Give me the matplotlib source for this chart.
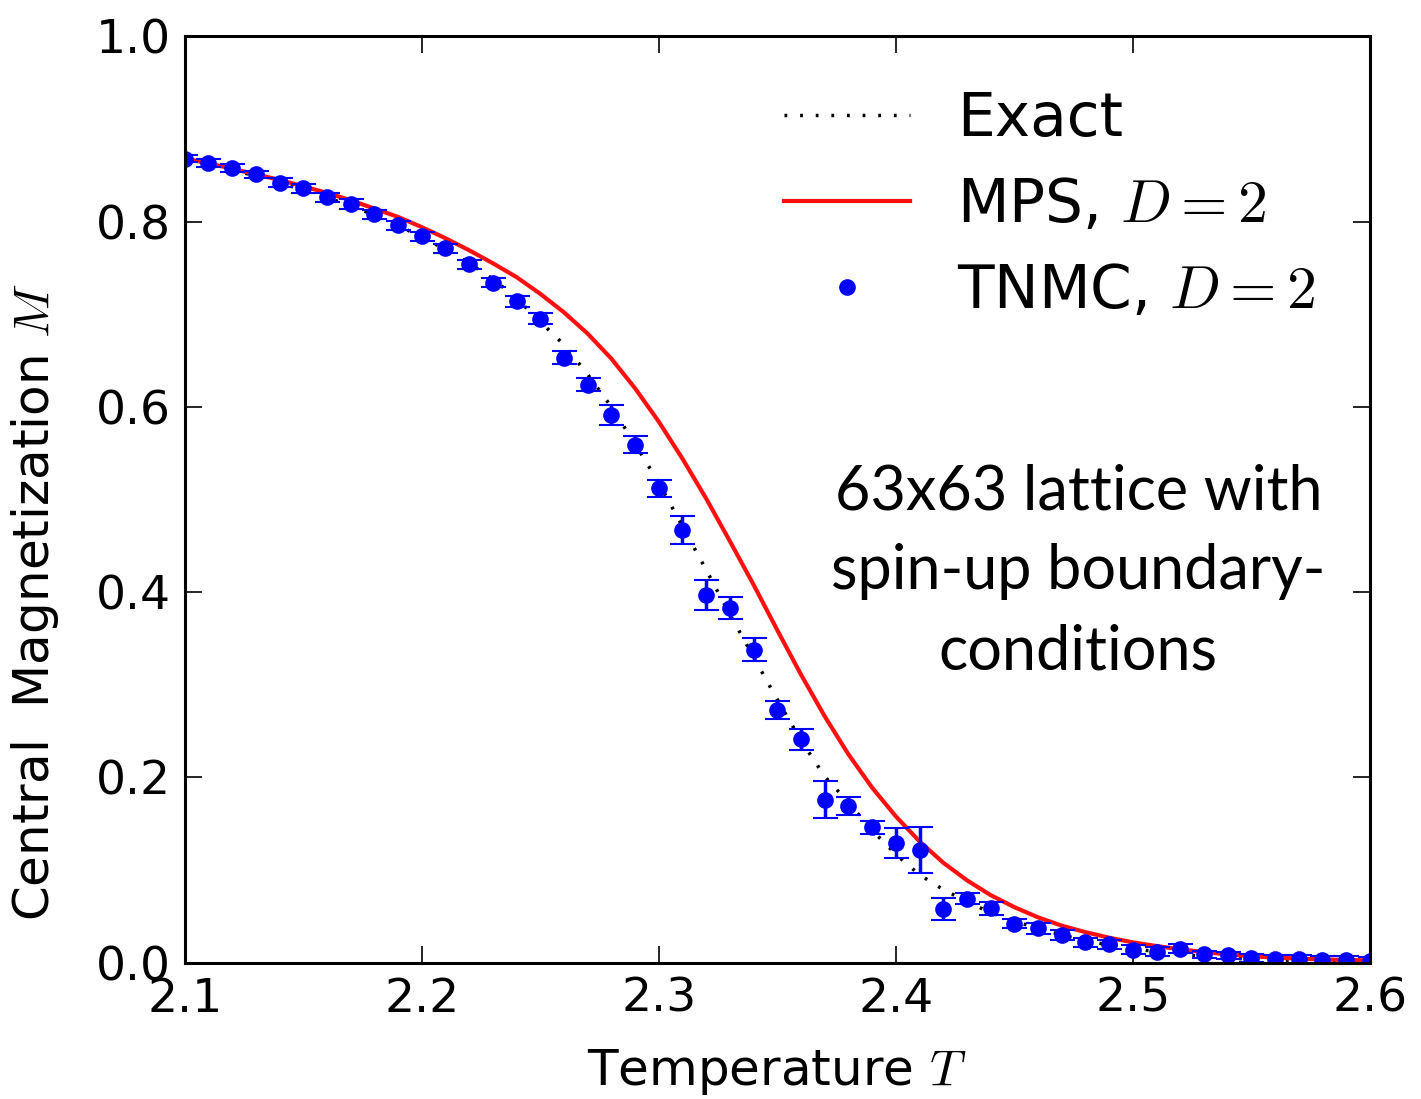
import numpy as np
import matplotlib
matplotlib.use('Agg')
import matplotlib.pyplot as plt

# TNMC, D=2 samples
tnmc_T = [2.10, 2.11, 2.12, 2.13, 2.14, 2.15, 2.16, 2.17, 2.18, 2.19,
          2.20, 2.21, 2.22, 2.23, 2.24, 2.25, 2.26, 2.27, 2.28, 2.29,
          2.30, 2.31, 2.32, 2.33, 2.34, 2.35, 2.36, 2.37, 2.38, 2.39,
          2.40, 2.41, 2.42, 2.43, 2.44, 2.45, 2.46, 2.47, 2.48, 2.49,
          2.50, 2.51, 2.52, 2.53, 2.54, 2.55, 2.56, 2.57, 2.58, 2.59, 2.60]
tnmc_M = [0.868, 0.863, 0.858, 0.851, 0.842, 0.836, 0.826, 0.819, 0.808, 0.796,
          0.784, 0.771, 0.754, 0.734, 0.714, 0.695, 0.653, 0.624, 0.591, 0.559,
          0.512, 0.467, 0.397, 0.383, 0.338, 0.273, 0.241, 0.176, 0.169, 0.146,
          0.129, 0.122, 0.058, 0.069, 0.059, 0.042, 0.037, 0.030, 0.022, 0.020,
          0.014, 0.012, 0.015, 0.009, 0.008, 0.005, 0.004, 0.004, 0.003, 0.003, 0.002]
tnmc_err = [0.004, 0.004, 0.004, 0.004, 0.005, 0.005, 0.005, 0.005, 0.005, 0.005,
            0.005, 0.005, 0.005, 0.005, 0.006, 0.006, 0.007, 0.007, 0.011, 0.009,
            0.0095, 0.015, 0.016, 0.012, 0.012, 0.010, 0.011, 0.020, 0.010, 0.007,
            0.016, 0.025, 0.012, 0.006, 0.007, 0.005, 0.006, 0.005, 0.005, 0.005,
            0.005, 0.005, 0.005, 0.004, 0.004, 0.004, 0.004, 0.004, 0.004, 0.004, 0.004]

# Exact solution
exact_T = tnmc_T
exact_M = [0.868, 0.862, 0.856, 0.849, 0.842, 0.834, 0.826, 0.817, 0.807, 0.796,
           0.783, 0.770, 0.755, 0.738, 0.717, 0.692, 0.667, 0.635, 0.600, 0.560,
           0.518, 0.471, 0.424, 0.376, 0.330, 0.284, 0.240, 0.201, 0.173, 0.143,
           0.117, 0.095, 0.079, 0.066, 0.054, 0.045, 0.037, 0.030, 0.024, 0.019,
           0.015, 0.012, 0.009, 0.007, 0.005, 0.004, 0.003, 0.002, 0.0015, 0.001, 0.001]

# MPS, D=2
mps_T = tnmc_T
mps_M = [0.868, 0.863, 0.857, 0.851, 0.845, 0.838, 0.831, 0.823, 0.814, 0.805,
         0.794, 0.782, 0.769, 0.755, 0.740, 0.722, 0.702, 0.679, 0.652, 0.620,
         0.584, 0.544, 0.501, 0.455, 0.408, 0.359, 0.311, 0.266, 0.225, 0.189,
         0.158, 0.131, 0.108, 0.089, 0.073, 0.060, 0.049, 0.040, 0.033, 0.027,
         0.022, 0.018, 0.0145, 0.0115, 0.009, 0.007, 0.0055, 0.0045, 0.0035, 0.003, 0.0025]

x_ticks = [2.1, 2.2, 2.3, 2.4, 2.5, 2.6]
y_ticks = [0.0, 0.2, 0.4, 0.6, 0.8, 1.0]

plt.rcParams['mathtext.fontset'] = 'cm'
plt.rcParams['font.family'] = 'DejaVu Sans'

fig = plt.figure(figsize=(14.21, 10.99), dpi=100)
ax = fig.add_axes([0.130, 0.124, 0.834, 0.843])

ax.plot(exact_T, exact_M, color='k', lw=2.5, linestyle=(0, (0.8, 3.7)), label='Exact')
ax.plot(mps_T, mps_M, color='#ff1010', lw=3, label=r'MPS, $D=2$')
_, caps, _ = ax.errorbar(tnmc_T, tnmc_M, yerr=tnmc_err, fmt='none', ecolor='b',
                         elinewidth=2.5, capsize=9, capthick=1.5)
for c in caps:
    c.set_color('#4a4aff')
ax.plot(tnmc_T, tnmc_M, 'o', color='b', markersize=12, markeredgewidth=0,
        label=r'TNMC, $D=2$')

ax.set_xlim(2.1, 2.6)
ax.set_ylim(0.0, 1.0)
ax.set_xticks(x_ticks)
ax.set_yticks(y_ticks)
ax.tick_params(direction='in', length=12, width=1.2, labelsize=34,
               top=True, right=True, pad=10)
for s in ax.spines.values():
    s.set_linewidth(2.2)

ax.set_xlabel(r'Temperature $T$', fontsize=36, labelpad=18)
ax.set_ylabel(r'Central  Magnetization $M$', fontsize=36)
ax.yaxis.set_label_coords(-0.104, 0.39)

ax.legend(loc='upper right', bbox_to_anchor=(0.974, 0.968), frameon=False,
          fontsize=43, handlelength=2.1, handletextpad=0.79, labelspacing=0.45,
          numpoints=1, borderaxespad=0)

ax.text(0.754, 0.422, '63x63 lattice with\nspin-up boundary-\nconditions',
        transform=ax.transAxes, ha='center', va='center', fontsize=44,
        family='Lato', linespacing=1.5)

fig.savefig('out.png', dpi=100)
